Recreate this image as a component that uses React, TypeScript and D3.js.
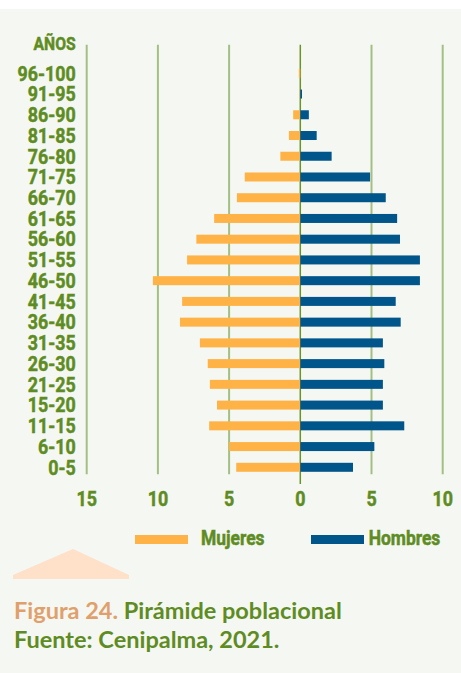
import React, { useEffect, useRef } from 'react';
import * as d3 from 'd3';

// age groups, top to bottom
const ageGroups = [
  '96-100', '91-95', '86-90', '81-85', '76-80', '71-75', '66-70', '61-65', '56-60', '51-55',
  '46-50', '41-45', '36-40', '31-35', '26-30', '21-25', '15-20', '11-15', '6-10', '0-5',
];
const mujeres = [0.1, 0.05, 0.5, 0.8, 1.4, 3.9, 4.45, 6.05, 7.3, 7.95, 10.35, 8.3, 8.45, 7.05, 6.5, 6.35, 5.85, 6.4, 5.0, 4.5];
const hombres = [0, 0.12, 0.6, 1.15, 2.2, 4.9, 6.0, 6.8, 7.0, 8.4, 8.4, 6.7, 7.05, 5.8, 5.9, 5.8, 5.8, 7.3, 5.2, 3.7];
const xTicks = [-15, -10, -5, 0, 5, 10];

const W = 461;
const H = 673;
const GREEN = '#5e8c22';
const ORANGE = '#ffb347';
const NAVY = '#00558a';
const labelFont = "Roboto, 'DejaVu Sans', sans-serif";
const SX = 0.85; // squeeze to imitate a condensed face

function Pyramid() {
  const ref = useRef<SVGSVGElement>(null);

  useEffect(() => {
    const svg = d3.select(ref.current);
    svg.selectAll('*').remove();

    const x = d3.scaleLinear().domain([-15, 10]).range([86.7, 442.7]);
    const y = d3.scalePoint<string>().domain(ageGroups).range([73.3, 467.3]);
    const barH = 9;

    // panel background
    svg.append('rect').attr('x', 0).attr('y', 9).attr('width', W).attr('height', H - 9).attr('fill', '#f5f7f2');

    // grid lines
    svg.append('g')
      .selectAll('line')
      .data(xTicks)
      .join('line')
      .attr('x1', d => x(d)).attr('x2', d => x(d))
      .attr('y1', 44.7)
      .attr('y2', d => (d === 0 ? 484 : 474.3))
      .attr('stroke', d => (d === 0 ? '#6a9428' : '#a3bf83'))
      .attr('stroke-width', d => (d === 0 ? 1.5 : 2));

    // bars
    svg.append('g')
      .selectAll('rect')
      .data(ageGroups)
      .join('rect')
      .attr('x', (d, i) => x(-mujeres[i]))
      .attr('y', d => (y(d) as number) - barH / 2)
      .attr('width', (d, i) => x(0) - x(-mujeres[i]))
      .attr('height', barH)
      .attr('fill', ORANGE);

    svg.append('g')
      .selectAll('rect')
      .data(ageGroups)
      .join('rect')
      .attr('x', x(0))
      .attr('y', d => (y(d) as number) - barH / 2)
      .attr('width', (d, i) => x(hombres[i]) - x(0))
      .attr('height', barH)
      .attr('fill', NAVY);

    // condensed-looking labels: draw inside a horizontally scaled group
    const cond = svg.append('g').attr('transform', `scale(${SX},1)`)
      .attr('font-family', labelFont)
      .attr('font-weight', 'bold')
      .attr('fill', GREEN)
      .attr('stroke', GREEN)
      .attr('stroke-width', 0.5);

    cond.append('g')
      .selectAll('text')
      .data(ageGroups)
      .join('text')
      .attr('x', 75.7 / SX)
      .attr('y', d => (y(d) as number) + 7.3)
      .attr('text-anchor', 'end')
      .attr('font-size', 21)
      .text(d => d);

    cond.append('text')
      .attr('x', 75.7 / SX).attr('y', 50.5)
      .attr('text-anchor', 'end')
      .attr('font-size', 18.5)
      .text('AÑOS');

    cond.append('g')
      .selectAll('text')
      .data(xTicks)
      .join('text')
      .attr('x', d => x(d) / SX)
      .attr('y', 506)
      .attr('text-anchor', 'middle')
      .attr('font-size', 21)
      .text(d => Math.abs(d));

    // legend
    const legend = [
      { label: 'Mujeres', color: ORANGE, x: 135, tx: 201 },
      { label: 'Hombres', color: NAVY, x: 311, tx: 368.7 },
    ];
    svg.append('g').selectAll('rect').data(legend).join('rect')
      .attr('x', d => d.x).attr('y', 535).attr('width', 53).attr('height', 9).attr('fill', d => d.color);
    cond.append('g').selectAll('text').data(legend).join('text')
      .attr('x', d => d.tx / SX).attr('y', 545.5)
      .attr('font-size', 20.5)
      .text(d => d.label);

    // decorative tab
    svg.append('polygon')
      .attr('points', '13,579 13,575 73,549 129,575 129,579')
      .attr('fill', '#ffe0c9');

    // caption
    const cap = svg.append('text')
      .attr('x', 14).attr('y', 619)
      .attr('font-family', "Lato, 'Open Sans', sans-serif")
      .attr('font-weight', 'bold')
      .attr('font-size', 23.5);
    cap.append('tspan').attr('fill', '#e0a06c').text('Figura 24. ');
    cap.append('tspan').attr('fill', GREEN).text('Pirámide poblacional');

    svg.append('text')
      .attr('x', 14).attr('y', 648)
      .attr('font-family', "Lato, 'Open Sans', sans-serif")
      .attr('font-weight', 'bold')
      .attr('font-size', 23.5)
      .attr('fill', GREEN)
      .text('Fuente: Cenipalma, 2021.');
  }, []);

  return <svg ref={ref} width={W} height={H} style={{ position: 'absolute', left: 0, top: 0 }} />;
}

export default function App() {
  return <Pyramid />;
}
